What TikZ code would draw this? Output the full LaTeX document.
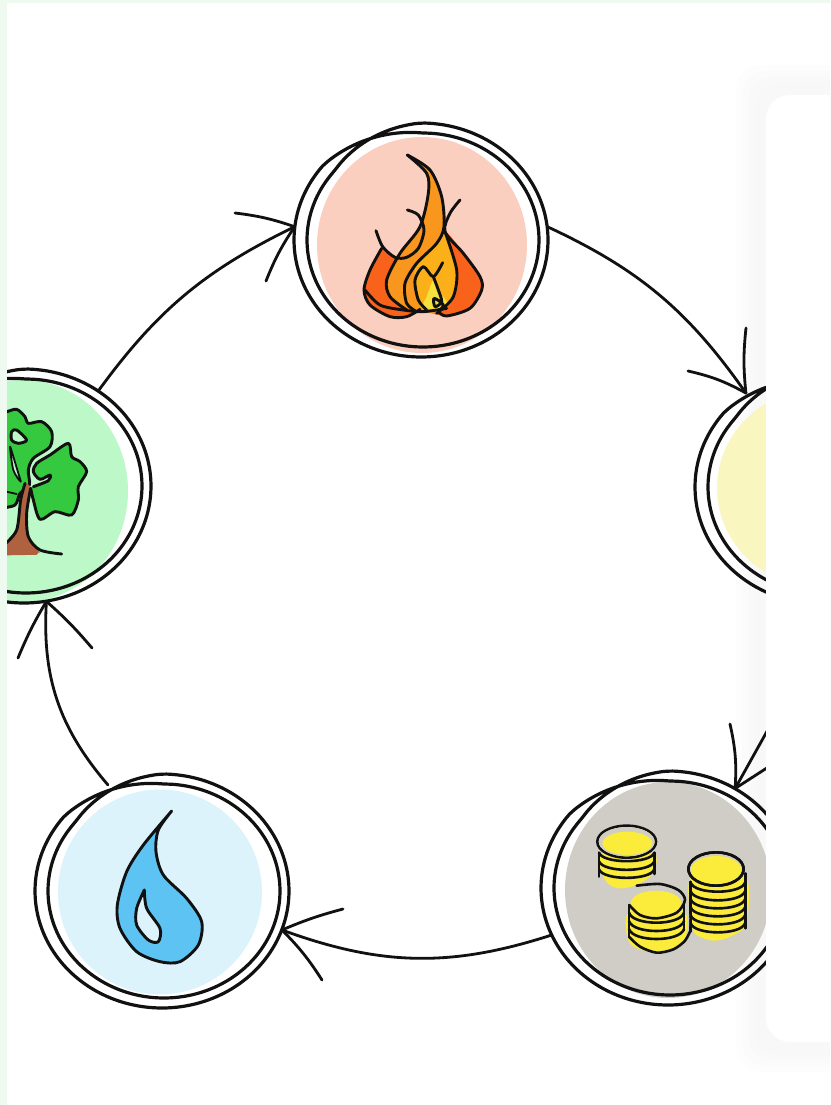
\documentclass[tikz,border=0pt]{standalone}
\usetikzlibrary{shapes.geometric}
\definecolor{ink}{HTML}{111111}
\definecolor{stripc}{HTML}{EEFAF0}
\definecolor{firebg}{HTML}{FBCFBF}
\definecolor{sunbg}{HTML}{F9F6C0}
\definecolor{coinbg}{HTML}{CFCDC6}
\definecolor{waterbg}{HTML}{DDF3FC}
\definecolor{treebg}{HTML}{BDF8C8}
\definecolor{fred}{HTML}{F9621B}
\definecolor{forange}{HTML}{F9961D}
\definecolor{famber}{HTML}{FBB01A}
\definecolor{fyellow}{HTML}{F5E03C}
\definecolor{leaf}{HTML}{34C93F}
\definecolor{bark}{HTML}{B0613F}
\definecolor{drop}{HTML}{5CC3F2}
\definecolor{coiny}{HTML}{FBEB3B}
\definecolor{shadowc}{HTML}{F8F8F8}
\tikzset{
  declare function={ramp(\u)=min(1,max(0,(\u-335)/50))*min(1,max(0,(745-\u)/50));},
  bgfill/.style={ellipse,inner sep=0pt,draw=none},
  ringbox/.style={ellipse,inner sep=0pt,minimum width=254pt,minimum height=234pt,draw=none},
  ringline/.style={draw=ink,line width=3.2pt},
  conn/.style={draw=ink,line width=2.8pt,line cap=round},
  barb/.style={draw=ink,line width=2.8pt,line cap=round},
  icon/.style={draw=ink,line width=2.9pt,line cap=round,line join=round},
  coinline/.style={draw=ink,line width=2.6pt,line cap=round,line join=round},
}
\newcommand{\ringcurve}[2]{\draw[ringline] plot[domain=25:745,samples=170,smooth,variable=\u]
  ({#1+2*(1-ramp(\u))+(116+11*ramp(\u))*cos(\u-115)},{#2+(107+10*ramp(\u))*sin(\u-115)});}
\newcommand{\coinarc}[4]{\draw[coinline] (#1,#2) .. controls +(12,#4) and +(-12,#4) .. (#3,#2);}
\begin{document}
\begin{tikzpicture}[x=1pt,y=-1pt]
\useasboundingbox (0,0) rectangle (830,1105);
\clip (0,0) rectangle (830,1105);
\fill[white] (0,0) rectangle (830,1105);
% soft shadow of the panel, beneath the drawing
\foreach \e/\o in {30/0.15,24/0.3,18/0.45,12/0.6,6/0.8}{
  \fill[shadowc,opacity=\o,rounded corners=24pt] (766-\e,95-\e) rectangle (900,1042+\e);
}
\begin{scope}
\clip (0,0) rectangle (790,1105);
% fills
\node[bgfill,fill=firebg,minimum width=210pt,minimum height=216pt] (fireFill) at (422,245) {};
\node[bgfill,fill=sunbg,minimum width=210pt,minimum height=200pt] (sunFill) at (822,488) {};
\node[bgfill,fill=coinbg,minimum width=206pt,minimum height=216pt] (coinFill) at (668,890) {};
\node[bgfill,fill=waterbg,minimum width=204pt,minimum height=205pt] (waterFill) at (160,892) {};
\node[bgfill,fill=treebg,minimum width=210pt,minimum height=222pt] (treeFill) at (23,491) {};
% ring boxes
\node[ringbox] (fire) at (421,240) {};
\node[ringbox] (sun) at (822,487) {};
\node[ringbox] (coin) at (668,888) {};
\node[ringbox] (water) at (162,891) {};
\node[ringbox] (tree) at (24,486) {};
\ringcurve{421}{240}
\ringcurve{822}{487}
\ringcurve{668}{888}
\ringcurve{162}{891}
\ringcurve{24}{486}
% connectors
\coordinate (b1a) at (746,328); \coordinate (b1b) at (688,371);
\coordinate (s2) at (790,690); \coordinate (b2a) at (730,724); \coordinate (b2b) at (790,753);
\coordinate (b3a) at (343,909); \coordinate (b3b) at (322,980);
\coordinate (b4a) at (18,658); \coordinate (b4b) at (92,648);
\coordinate (b5a) at (235,213); \coordinate (b5b) at (266,281);
\draw[conn] (fire.6) to[bend left=15] (sun.129);
\draw[barb] (sun.129) to[bend left=6] (b1a);
\draw[barb] (sun.129) to[bend right=8] (b1b);
\draw[conn] (s2) -- (coin.56);
\draw[barb] (coin.56) to[bend right=8] (b2a);
\draw[barb] (coin.56) -- (b2b);
\draw[conn] (coin.202) to[bend left=19] (water.-18);
\draw[barb] (water.-18) to[bend left=4] (b3a);
\draw[barb] (water.-18) to[bend left=6] (b3b);
\draw[conn] (water.117) to[bend left=22] (tree.-79);
\draw[barb] (tree.-79) to[bend right=4] (b4a);
\draw[barb] (tree.-79) to[bend left=4] (b4b);
\draw[conn] (tree.52) to[bend left=14] (fire.174);
\draw[barb] (fire.174) to[bend right=6] (b5a);
\draw[barb] (fire.174) to[bend right=6] (b5b);
% flame
\begin{scope}[shift={(290,120)},scale=1/3]
\fill[fred] plot[smooth] coordinates {(275,385)(240,450)(222,510)(240,555)(300,590)(350,590)(400,575)(470,588)(540,565)(575,510)(570,470)(520,400)(465,335)(440,400)(350,430)};
\fill[forange] plot[smooth] coordinates {(352,105)(420,150)(455,230)(462,320)(440,370)(470,450)(450,570)(380,575)(345,560)(300,530)(290,480)(330,400)(390,320)(415,220)(410,160)};
\fill[famber] plot[smooth] coordinates {(465,335)(500,450)(490,530)(450,572)(390,560)(375,480)(380,430)(440,370)};
\fill[fyellow] plot[smooth cycle] coordinates {(430,480)(410,530)(400,560)(450,570)(472,550)(445,510)};
\draw[icon] plot[smooth] coordinates {(258,332)(278,380)(315,412)(350,412)(385,385)(402,330)(385,285)(352,270)};
\draw[icon] plot[smooth] coordinates {(275,385)(240,450)(222,510)(240,555)(300,590)(350,590)(390,568)};
\draw[icon] plot[smooth] coordinates {(225,510)(270,555)(340,570)(400,575)(470,565)};
\draw[icon] plot[smooth] coordinates {(352,105)(410,160)(415,220)(390,320)(330,400)(290,480)(300,530)(350,570)};
\draw[icon] plot[smooth] coordinates {(352,105)(420,150)(455,230)(462,320)(440,370)(380,430)(345,490)(350,550)(380,575)};
\draw[icon] plot[smooth] coordinates {(510,240)(480,280)(465,335)(520,400)(570,470)(575,510)(540,565)(470,588)(445,575)};
\draw[icon] plot[smooth] coordinates {(465,335)(500,450)(490,530)(450,572)};
\draw[icon] plot[smooth] coordinates {(458,428)(430,470)(400,440)(375,480)(385,540)(410,570)};
\draw[icon] plot[smooth] coordinates {(430,470)(445,510)(455,545)(435,560)(432,535)(460,555)(440,580)};
\end{scope}
% drop
\begin{scope}[shift={(30,765)},scale=1/3]
\draw[icon,fill=drop] plot[smooth] coordinates {(425,138)(385,195)(378,260)(400,330)(470,400)(515,470)(505,540)(450,590)(390,590)(320,560)(270,490)(262,420)(290,320)(340,240)(425,138)};
\draw[icon,fill=waterbg] plot[smooth] coordinates {(343,375)(350,430)(390,490)(385,530)(355,525)(320,480)(320,430)(343,375)};
\end{scope}
% tree
\begin{scope}[shift={(0,360)},scale=1/3]
\draw[icon,fill=leaf] plot[smooth] coordinates {(0,160)(21,155)(50,148)(75,170)(85,190)(125,185)(155,215)(150,260)(100,295)(85,330)(88,375)(60,400)(45,435)(0,445)};
\draw[icon,fill=treebg] plot[smooth cycle] coordinates {(35,215)(50,210)(80,240)(55,250)(35,240)};
\draw[icon,line width=1.8pt,fill=treebg] plot[smooth cycle] coordinates {(30,260)(40,290)(55,340)(62,365)(40,330)};
\draw[icon,fill=leaf] plot[smooth] coordinates {(100,380)(145,362)(150,345)(120,358)(100,335)(110,310)(150,285)(205,250)(215,290)(240,305)(260,335)(235,380)(235,420)(215,465)(165,455)(120,478)(100,420)(92,385)};
\fill[bark] plot[smooth] coordinates {(75,370)(92,385)(80,460)(85,530)(120,578)} -- (0,582) -- (0,565) -- (50,510) -- (62,420) -- cycle;
\draw[icon] plot[smooth] coordinates {(92,385)(80,460)(85,530)(120,570)(185,582)};
\draw[icon] plot[smooth] coordinates {(75,370)(62,420)(50,510)(15,552)};
\draw[icon,draw=bark] (0,582) -- (110,580);
\draw[icon,line width=1.8pt] (20,395) -- (50,402);
\end{scope}
% coins
\begin{scope}[shift={(530,720)},scale=1/3]
\fill[coiny] plot[smooth cycle] coordinates {(215,400)(370,400)(368,460)(320,495)(265,505)(225,480)};
\draw[coinline,fill=coiny] (290,365) ellipse [x radius=88,y radius=48];
\fill[coinbg] (290,365) ellipse [x radius=84,y radius=44];
\fill[coiny] (292,370) ellipse [x radius=75,y radius=35];
\coinarc{207}{398}{373}{34}\coinarc{207}{424}{373}{34}\coinarc{207}{448}{373}{34}
\draw[coinline] (207,398) -- (207,470); \draw[coinline] (373,398) -- (373,462);
% right stack
\fill[coiny] plot[smooth cycle] coordinates {(485,470)(645,470)(648,610)(600,650)(550,662)(500,645)(485,610)};
\draw[coinline,fill=coinbg] (558,447) ellipse [x radius=83,y radius=50];
\fill[coiny] (558,450) ellipse [x radius=76,y radius=42];
\draw[coinline] (558,447) ellipse [x radius=83,y radius=50];
\coinarc{482}{488}{645}{36}\coinarc{482}{514}{645}{36}\coinarc{482}{538}{645}{36}\coinarc{482}{562}{645}{36}\coinarc{482}{586}{645}{36}\coinarc{482}{610}{645}{36}
\draw[coinline] (482,485) -- (482,635);
\draw[coinline] (646,460) -- (646,625);
% middle stack
\fill[coinbg] plot[smooth cycle] coordinates {(320,497)(390,490)(468,540)(470,650)(380,705)(290,670)(292,555)};
\fill[coiny] plot[smooth cycle] coordinates {(300,570)(460,570)(460,670)(385,698)(300,670)};
\fill[coiny] (378,550) ellipse [x radius=76,y radius=38];
\draw[coinline] plot[smooth] coordinates {(320,497)(390,492)(445,510)(465,540)(440,578)(380,595)(330,585)(298,555)};
\coinarc{297}{578}{462}{40}\coinarc{297}{603}{462}{40}\coinarc{297}{627}{462}{40}
\draw[coinline] plot[smooth] coordinates {(297,650)(330,680)(380,698)(430,688)(465,662)(483,628)};
\draw[coinline] (297,555) -- (297,650);
\draw[coinline] (462,545) -- (462,630);
\end{scope}
\end{scope}
% white panel
\fill[white,rounded corners=24pt] (766,95) rectangle (900,1042);
% page strips
\fill[stripc] (0,0) rectangle (7,1105);
\fill[stripc] (0,0) rectangle (830,3);
\end{tikzpicture}
\end{document}
